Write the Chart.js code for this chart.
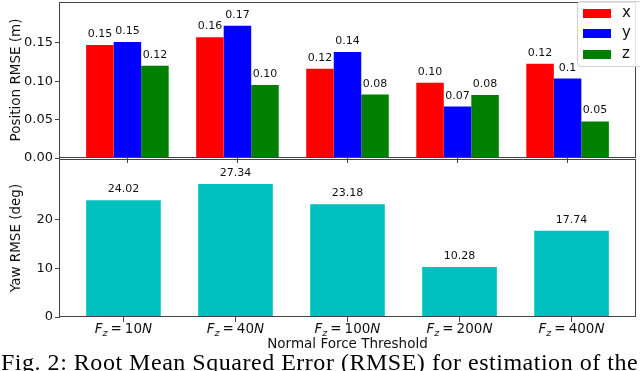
<!DOCTYPE html>
<html>
<head>
<meta charset="utf-8">
<script src="https://cdn.jsdelivr.net/npm/chart.js@4.4.0/dist/chart.umd.min.js"></script>
<style>
  html, body { margin: 0; padding: 0; background: #fff; }
  #page { position: relative; width: 640px; height: 371px; overflow: hidden; }
  canvas { position: absolute; left: 0; }
  #posChart { top: 0; }
  #yawChart { top: 150px; }
  #legend {
    position: absolute; left: 577px; top: 1px; width: 75px; height: 64px;
    border: 1px solid #d0d0d0; border-radius: 4px; background: rgba(255,255,255,0.85);
    font-family: "DejaVu Sans"; font-size: 15px; color: #111;
  }
  .row { position: absolute; left: 5px; height: 20px; }
  .sw { position: absolute; left: 0; top: 0; width: 28px; height: 9px; }
  .lb { position: absolute; left: 39px; top: -7px; line-height: 20px; }
  #caption {
    position: absolute; left: 1px; top: 350px; white-space: nowrap; letter-spacing: 0.52px;
    font-family: "Liberation Serif"; font-size: 24px; line-height: 24px; color: #000;
  }
</style>
</head>
<body>
<div id="page">
  <canvas id="posChart" width="640" height="175"></canvas>
  <canvas id="yawChart" width="640" height="205"></canvas>
  <div id="legend">
    <div class="row" style="top:7px"><div class="sw" style="background:#ff0000"></div><div class="lb">x</div></div>
    <div class="row" style="top:27px"><div class="sw" style="background:#0000ff"></div><div class="lb">y</div></div>
    <div class="row" style="top:48px"><div class="sw" style="background:#008000"></div><div class="lb">z</div></div>
  </div>
  <div id="caption">Fig. 2: Root Mean Squared Error (RMSE) for estimation of the</div>
</div>
<script>
// force thresholds (N) on the x axis
var forces = ["10", "40", "100", "200", "400"];

// position RMSE (m)
var posX = [0.147, 0.157, 0.116, 0.098, 0.1225];
var posY = [0.151, 0.172, 0.138, 0.067, 0.1034];
var posZ = [0.120, 0.095, 0.0826, 0.082, 0.0475];
var posLabelsX = ["0.15", "0.16", "0.12", "0.10", "0.12"];
var posLabelsY = ["0.15", "0.17", "0.14", "0.07", "0.1"];
var posLabelsZ = ["0.12", "0.10", "0.08", "0.08", "0.05"];
var posTicks = [0, 0.05, 0.10, 0.15];

// yaw RMSE (deg)
var yaw = [24.02, 27.34, 23.18, 10.28, 17.74];
var yawLabels = ["24.02", "27.34", "23.18", "10.28", "17.74"];
var yawTicks = [0, 10, 20];

const axisColor = '#444';
const textColor = '#111';
Chart.defaults.font.family = "DejaVu Sans";
Chart.defaults.color = textColor;

function points(values) {
    return values.map((v, i) => ({ x: i, y: v }));
}

// box round the plot area, like matplotlib spines
const frame = {
    id: 'frame',
    afterDraw(chart) {
        let a = chart.chartArea;
        let ctx = chart.ctx;
        ctx.save();
        ctx.strokeStyle = axisColor;
        ctx.lineWidth = 1;
        ctx.strokeRect(Math.round(a.left) - 0.5, Math.round(a.top) + 0.5,
            Math.round(a.right - a.left) + 1, Math.round(a.bottom - a.top) - 1);
        ctx.restore();
    }
};

// numbers above the bars
const valueLabels = {
    id: 'valueLabels',
    afterDatasetsDraw(chart) {
        let ctx = chart.ctx;
        ctx.save();
        ctx.font = '11px "DejaVu Sans"';
        ctx.fillStyle = textColor;
        ctx.textAlign = 'center';
        ctx.textBaseline = 'alphabetic';
        chart.data.datasets.forEach((ds, d) => {
            chart.getDatasetMeta(d).data.forEach((bar, i) => {
                ctx.fillText(ds.valueLabels[i], bar.x, bar.y - 8);
            });
        });
        ctx.restore();
    }
};

// x tick labels written like "F_z = 10N"
const mathTicks = {
    id: 'mathTicks',
    afterDraw(chart) {
        let ctx = chart.ctx;
        let sc = chart.scales.x;
        let base = sc.top + 16;
        ctx.save();
        ctx.fillStyle = textColor;
        ctx.textBaseline = 'alphabetic';
        ctx.textAlign = 'left';
        forces.forEach((f, i) => {
            let parts = [
                { t: 'F', font: 'italic 13.5px "DejaVu Sans"', dy: 0, gap: 0 },
                { t: 'z', font: 'italic 9.5px "DejaVu Sans"', dy: 3, gap: 3 },
                { t: '=', font: '13.5px "DejaVu Sans"', dy: 0, gap: 3 },
                { t: f, font: '13.5px "DejaVu Sans"', dy: 0, gap: 0 },
                { t: 'N', font: 'italic 13.5px "DejaVu Sans"', dy: 0, gap: 0 }
            ];
            let total = 0;
            parts.forEach(p => { ctx.font = p.font; p.w = ctx.measureText(p.t).width; total += p.w + p.gap; });
            let x = sc.getPixelForValue(i) - total / 2;
            parts.forEach(p => {
                ctx.font = p.font;
                ctx.fillText(p.t, x, base + p.dy);
                x += p.w + p.gap;
            });
        });
        ctx.restore();
    }
};

function xScale(min, max, height) {
    return {
        type: 'linear',
        min: min,
        max: max,
        offset: false,
        afterBuildTicks: s => { s.ticks = forces.map((f, i) => ({ value: i })); },
        afterFit: s => { s.height = height; s.paddingLeft = 0; s.paddingRight = 0; },
        grid: { drawOnChartArea: false, offset: false, color: axisColor, tickLength: 5 },
        border: { display: false },
        ticks: { callback: () => '' }
    };
}

function yScale(max, tickValues, digits, title) {
    return {
        min: 0,
        max: max,
        afterBuildTicks: s => { s.ticks = tickValues.map(v => ({ value: v })); },
        afterFit: s => { s.width = 60; s.paddingTop = 0; s.paddingBottom = 0; },
        grid: { drawOnChartArea: false, color: axisColor, tickLength: 5 },
        border: { display: false },
        ticks: {
            padding: 2,
            font: { size: 13 },
            color: textColor,
            callback: v => Number(v).toFixed(digits)
        },
        title: {
            display: true,
            text: title,
            font: { size: 13.5 },
            color: textColor,
            padding: { top: 8, bottom: 0 }
        }
    };
}

// Position chart
var posChart = new Chart(document.getElementById('posChart'), {
    type: 'bar',
    data: {
        datasets: [
            { label: 'x', data: points(posX), backgroundColor: '#ff0000', valueLabels: posLabelsX },
            { label: 'y', data: points(posY), backgroundColor: '#0000ff', valueLabels: posLabelsY },
            { label: 'z', data: points(posZ), backgroundColor: '#008000', valueLabels: posLabelsZ }
        ]
    },
    options: {
        responsive: false,
        animation: false,
        events: [],
        categoryPercentage: 0.75,
        barPercentage: 1.0,
        layout: { padding: { top: 2, right: 5, left: 0, bottom: 0 } },
        scales: {
            x: xScale(-0.6125, 4.6125, 17),
            y: yScale(0.203, posTicks, 2, 'Position RMSE (m)')
        },
        plugins: { legend: { display: false }, tooltip: { enabled: false } }
    },
    plugins: [frame, valueLabels]
});

// Yaw chart
var yawX = xScale(-0.5665, 4.5665, 38);
yawX.title = {
    display: true,
    text: 'Normal Force Threshold',
    font: { size: 13.5 },
    color: textColor,
    padding: { top: 0, bottom: 2 }
};
var yawChart = new Chart(document.getElementById('yawChart'), {
    type: 'bar',
    data: {
        datasets: [
            { label: 'yaw', data: points(yaw), backgroundColor: '#00bfbf', valueLabels: yawLabels }
        ]
    },
    options: {
        responsive: false,
        animation: false,
        events: [],
        categoryPercentage: 0.666,
        barPercentage: 1.0,
        layout: { padding: { top: 9, right: 5, left: 0, bottom: 0 } },
        scales: {
            x: yawX,
            y: yScale(32.5, yawTicks, 0, 'Yaw RMSE (deg)')
        },
        plugins: { legend: { display: false }, tooltip: { enabled: false } }
    },
    plugins: [frame, valueLabels, mathTicks]
});
</script>
</body>
</html>
